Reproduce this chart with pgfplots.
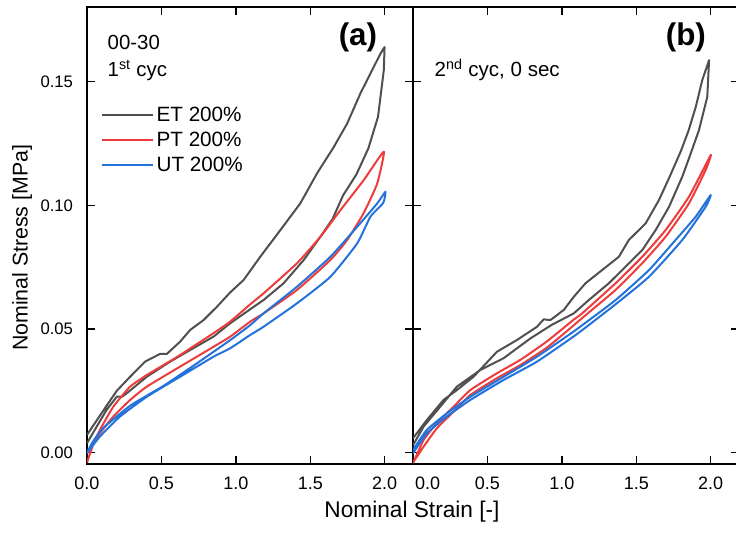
\documentclass[border=0pt]{standalone}
\usepackage{pgfplots}
\pgfplotsset{compat=1.18}
\usepackage{fontspec}
\setmainfont{Liberation Sans}
\definecolor{etgray}{RGB}{80,80,80}
\definecolor{ptred}{RGB}{238,60,60}
\definecolor{utblue}{RGB}{35,115,218}

\pgfplotsset{
  panel/.style={
    scale only axis,
    width=244.5pt, height=342.75pt,
    xmin=0, xmax=2.19,
    ymin=-0.0046, ymax=0.1802,
    xtick={0,0.5,1,1.5,2},
    ytick={0,0.05,0.10,0.15},
    tick align=inside,
    major tick length=5.8pt,
    axis line style={line width=1.2pt},
    every tick/.style={black, line width=1pt},
    xticklabel style={font=\fontsize{13.5}{15}\selectfont, yshift=-6pt},
    yticklabel style={font=\fontsize{12.5}{14}\selectfont, xshift=-7pt},
    clip=true,
    every axis plot/.append style={line width=1.5pt, line join=round},
  },
}

\begin{document}
\begin{tikzpicture}
% ---- (a) first cycle ----
\begin{axis}[panel,
    at={(0pt,0pt)}, anchor=south west,
    xticklabels={0.0,0.5,1.0,1.5,2.0},
    yticklabels={0.00,0.05,0.10,0.15},
    ylabel={Nominal Stress [MPa]},
    ylabel style={at={(axis description cs:-0.199,0.473)}, anchor=center, font=\fontsize{16}{18}\selectfont},
    xlabel={Nominal Strain [-]},
    xlabel style={at={(axis description cs:0.997,-0.105)}, anchor=center, font=\fontsize{17}{19}\selectfont},
    legend image code/.code={\draw[#1] (0pt,0pt) -- (38pt,0pt);},
    legend cell align=left,
    legend style={draw=none, fill=none, inner sep=0pt, row sep=2.5pt,
      at={(axis description cs:0.043,0.709)}, anchor=west,
      nodes={inner sep=2pt},
      font=\fontsize{15.5}{17}\selectfont},
]
\addplot[etgray] coordinates {
 (0.000,0.0072) (0.065,0.0130) (0.132,0.0190) (0.200,0.0250) (0.290,0.0307)
 (0.390,0.0368) (0.490,0.0399) (0.536,0.0399) (0.626,0.0449) (0.693,0.0496)
 (0.783,0.0536) (0.873,0.0590) (0.962,0.0648) (1.052,0.0698) (1.164,0.0792)
 (1.299,0.0900) (1.433,0.1008) (1.546,0.1130) (1.657,0.1235) (1.748,0.1331)
 (1.837,0.1453) (1.904,0.1533) (1.972,0.1614) (1.999,0.1640)
 (1.994,0.1547) (1.955,0.1358) (1.890,0.1230) (1.810,0.1125) (1.720,0.1040)
 (1.650,0.0945) (1.568,0.0873) (1.456,0.0779) (1.321,0.0685) (1.186,0.0617)
 (1.097,0.0580) (0.962,0.0523) (0.850,0.0469) (0.693,0.0415) (0.559,0.0368)
 (0.402,0.0307) (0.267,0.0240) (0.235,0.0226) (0.200,0.0226) (0.132,0.0173)
 (0.065,0.0105) (0.000,0.0038)
};
\addplot[ptred, smooth, tension=0.3] coordinates {
 (0.000,-0.0040) (0.040,0.0030) (0.087,0.0092) (0.177,0.0186) (0.290,0.0267)
 (0.402,0.0314) (0.514,0.0354) (0.626,0.0395) (0.850,0.0483) (0.962,0.0530)
 (1.097,0.0600) (1.186,0.0644) (1.411,0.0766) (1.568,0.0873) (1.703,0.0981)
 (1.859,0.1102) (1.994,0.1217)
 (1.950,0.1089) (1.859,0.0969) (1.748,0.0860) (1.635,0.0779) (1.411,0.0658)
 (1.186,0.0563) (1.097,0.0530) (0.962,0.0469) (0.850,0.0428) (0.626,0.0348)
 (0.402,0.0267) (0.290,0.0213) (0.177,0.0146) (0.087,0.0078) (0.000,-0.0003)
};
\addplot[utblue, smooth, tension=0.3] coordinates {
 (0.000,0.0000) (0.040,0.0045) (0.110,0.0100) (0.290,0.0190) (0.514,0.0270)
 (0.738,0.0361) (0.962,0.0455) (1.097,0.0516) (1.186,0.0563) (1.411,0.0671)
 (1.635,0.0792) (1.815,0.0913) (1.950,0.1008) (2.005,0.1055)
 (1.990,0.1010) (1.904,0.0954) (1.815,0.0846) (1.635,0.0711) (1.411,0.0604)
 (1.186,0.0509) (1.097,0.0476) (0.962,0.0422) (0.850,0.0388) (0.626,0.0307)
 (0.402,0.0226) (0.222,0.0146) (0.087,0.0065) (0.000,-0.0002)
};
\legend{ET 200\%, PT 200\%, UT 200\%}
\node[anchor=base west, font=\fontsize{15.3}{17}\selectfont] at (axis description cs:0.049,0.908) {00-30};
\node[anchor=base west, font=\fontsize{15.3}{17}\selectfont] at (axis description cs:0.049,0.849) {1\textsuperscript{st} cyc};
\node[font=\fontsize{23.5}{26}\selectfont\bfseries] at (axis description cs:0.831,0.934) {(a)};
\end{axis}

% ---- (b) second cycle ----
\begin{axis}[panel,
    at={(244.5pt,0pt)}, anchor=south west,
    xticklabels={\hspace*{22pt}0.0,0.5,1.0,1.5,2.0},
    yticklabels={},
]
\addplot[etgray] coordinates {
 (0.000,0.0058) (0.093,0.0132) (0.205,0.0213) (0.295,0.0253) (0.407,0.0307)
 (0.564,0.0408) (0.700,0.0456) (0.833,0.0509) (0.878,0.0539) (0.923,0.0536)
 (1.013,0.0577) (1.080,0.0630) (1.159,0.0685) (1.270,0.0738) (1.383,0.0792)
 (1.450,0.0860) (1.563,0.0927) (1.652,0.1021) (1.720,0.1110) (1.800,0.1220)
 (1.850,0.1300) (1.900,0.1399) (1.943,0.1506) (1.989,0.1587)
 (1.977,0.1439) (1.921,0.1304) (1.860,0.1200) (1.809,0.1116) (1.720,0.0994)
 (1.630,0.0900) (1.540,0.0819) (1.428,0.0752) (1.316,0.0685) (1.181,0.0617)
 (1.080,0.0563) (0.930,0.0516) (0.789,0.0462) (0.609,0.0382) (0.452,0.0334)
 (0.295,0.0267) (0.183,0.0186) (0.071,0.0105) (0.000,0.0030)
};
\addplot[ptred, smooth, tension=0.3] coordinates {
 (0.000,-0.0043) (0.071,0.0051) (0.160,0.0119) (0.273,0.0186) (0.385,0.0253)
 (0.564,0.0321) (0.721,0.0375) (0.900,0.0450) (1.080,0.0538) (1.136,0.0563)
 (1.361,0.0685) (1.540,0.0792) (1.697,0.0900) (1.854,0.1035) (2.000,0.1203)
 (1.966,0.1143) (1.854,0.1008) (1.697,0.0873) (1.540,0.0766) (1.361,0.0658)
 (1.136,0.0544) (1.080,0.0515) (0.900,0.0425) (0.721,0.0354) (0.564,0.0301)
 (0.385,0.0233) (0.273,0.0166) (0.160,0.0098) (0.071,0.0024) (0.000,-0.0040)
};
\addplot[utblue, smooth, tension=0.3] coordinates {
 (0.000,0.0011) (0.093,0.0092) (0.228,0.0159) (0.385,0.0226) (0.609,0.0307)
 (0.833,0.0388) (1.080,0.0490) (1.136,0.0515) (1.361,0.0617) (1.585,0.0738)
 (1.764,0.0860) (1.899,0.0954) (2.000,0.1042)
 (1.966,0.0994) (1.809,0.0860) (1.585,0.0711) (1.361,0.0600) (1.136,0.0495)
 (1.080,0.0470) (0.833,0.0368) (0.609,0.0294) (0.385,0.0213) (0.228,0.0146)
 (0.093,0.0078) (0.000,-0.0003)
};
\node[anchor=base west, font=\fontsize{15.4}{17}\selectfont] at (axis description cs:0.052,0.847) {2\textsuperscript{nd} cyc, 0 sec};
\node[font=\fontsize{23.5}{26}\selectfont\bfseries] at (axis description cs:0.837,0.934) {(b)};
\end{axis}
\pgfresetboundingbox
\useasboundingbox (-65.25pt,-51.75pt) rectangle (486.75pt,348pt);
\end{tikzpicture}
\end{document}
